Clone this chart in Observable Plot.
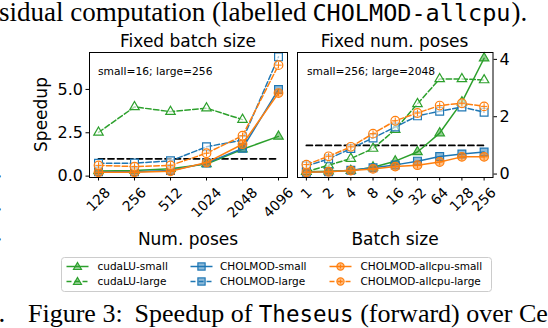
<!DOCTYPE html>
<html><head><meta charset="utf-8">
<script src="https://cdn.jsdelivr.net/npm/d3@7"></script>
<script src="https://cdn.jsdelivr.net/npm/@observablehq/plot@0.6"></script>
<style>
body{margin:0;background:#fff;}
#root{position:relative;width:548px;height:328px;overflow:hidden;font-family:"DejaVu Sans";color:#000;background:#fff;}
#root svg{position:absolute;overflow:visible;}
</style></head><body><div id="root"></div>
<script>
// ---- data ----
const numPoses = [128, 256, 512, 1024, 2048, 4096];
const batchSizes = [1, 2, 4, 8, 16, 32, 64, 128, 256];
const seriesNames = ["cudaLU-small", "cudaLU-large", "CHOLMOD-small", "CHOLMOD-large", "CHOLMOD-allcpu-small", "CHOLMOD-allcpu-large"];
const seriesColors = ["#2ca02c", "#2ca02c", "#1f77b4", "#1f77b4", "#ff7f0e", "#ff7f0e"];
const seriesSymbols = ["triangle", "triangle", "square", "square", "circle", "circle"];
const seriesDashed = [false, true, false, true, false, true];

// Fixed batch size (small=16; large=256), x = num. poses
const posesCudaSmall = [0.30, 0.33, 0.43, 0.70, 1.55, 2.29];
const posesCudaLarge = [2.52, 3.99, 3.72, 3.92, 3.26, null];
const posesCholSmall = [0.25, 0.25, 0.32, 0.75, 1.60, 5.00];
const posesCholLarge = [0.74, 0.75, 0.88, 1.69, 2.08, 6.88];
const posesCpuSmall = [0.22, 0.22, 0.28, 0.78, 1.84, 4.79];
const posesCpuLarge = [0.62, 0.55, 0.62, 1.32, 2.33, 6.40];

// Fixed num. poses (small=256; large=2048), x = batch size
const batchCudaSmall = [0.08, 0.10, 0.12, 0.24, 0.45, 0.77, 1.43, 2.51, 4.04];
const batchCudaLarge = [0.08, 0.31, 0.54, 0.89, 1.55, 2.45, 3.32, 3.32, 3.28];
const batchCholSmall = [0.06, 0.08, 0.13, 0.22, 0.32, 0.45, 0.61, 0.70, 0.77];
const batchCholLarge = [0.28, 0.53, 0.89, 1.26, 1.64, 2.03, 2.19, 2.34, 2.16];
const batchCpuSmall = [0.06, 0.08, 0.12, 0.18, 0.26, 0.31, 0.42, 0.60, 0.60];
const batchCpuLarge = [0.33, 0.62, 0.95, 1.41, 1.86, 2.13, 2.39, 2.47, 2.36];

const leftYTicks = [0, 2.5, 5.0];
const rightYTicks = [0, 2, 4];
const baselineSpeedup = 1;

// ---- drawing ----
const symbolR = {triangle: 3.5, square: 4.4, circle: 4.3};

function makePanel(cfg) {
  const xs = cfg.xs;
  const marks = [];
  marks.push(Plot.line([xs[0], xs[xs.length - 1]].map(x => ({x, y: baselineSpeedup})),
    {x: "x", y: "y", stroke: "black", strokeWidth: 1.8, strokeDasharray: "6,3.5"}));
  cfg.series.forEach((vals, i) => {
    const data = xs.map((x, j) => ({x, y: vals[j]})).filter(d => d.y != null);
    const c = seriesColors[i];
    marks.push(Plot.line(data, {x: "x", y: "y", stroke: c, strokeWidth: 1.5,
      strokeDasharray: seriesDashed[i] ? "5.5,2.4" : null}));
    marks.push(Plot.dot(data, {x: "x", y: "y", symbol: seriesSymbols[i], r: symbolR[seriesSymbols[i]],
      stroke: c, fill: seriesDashed[i] ? "white" : c, fillOpacity: seriesDashed[i] ? 0.6 : 0.5, strokeWidth: 1.2}));
    if (seriesSymbols[i] === "circle") {
      marks.push(Plot.dot(data, {x: "x", y: "y", symbol: "plus", r: 2.2, stroke: c, strokeWidth: 1}));
    }
  });
  marks.push(Plot.frame({stroke: "black", strokeWidth: 1}));
  marks.push(Plot.axisY({anchor: cfg.yAnchor, ticks: cfg.yTicks, tickFormat: cfg.yFormat, tickSize: 3.5,
    tickPadding: 3, fontSize: 16, label: null}));
  marks.push(Plot.axisX({ticks: xs, tickSize: 3.5, tickFormat: () => "", label: null}));
  xs.forEach(v => {
    const s = String(v);
    const w = s.length * 0.636 * 14;
    const off = 9 + (w + 10.5) * 0.707 / 2;
    marks.push(Plot.text([v], {x: d => d, text: d => String(d), frameAnchor: "bottom", rotate: -45,
      textAnchor: "middle", lineAnchor: "middle", fontSize: 14, dy: off, fill: "black"}));
  });
  const svg = Plot.plot({
    width: cfg.width, height: cfg.height,
    marginLeft: cfg.ml, marginRight: cfg.mr, marginTop: 52, marginBottom: 73,
    x: {type: "log", base: 2, domain: cfg.xDomain},
    y: {domain: cfg.yDomain},
    style: {fontFamily: "DejaVu Sans", fontSize: "16px", color: "black", background: "transparent", overflow: "visible"},
    marks
  });
  svg.style.left = cfg.left + "px";
  svg.style.top = "0px";
  return svg;
}

const root = document.getElementById("root");
root.appendChild(makePanel({
  xs: numPoses, series: [posesCudaSmall, posesCudaLarge, posesCholSmall, posesCholLarge, posesCpuSmall, posesCpuLarge],
  xDomain: [Math.pow(2, 6.75), Math.pow(2, 12.25)], yDomain: [-0.08, 7.13],
  yTicks: leftYTicks, yFormat: d3.format(".1f"), yAnchor: "left",
  width: 292, height: 250, ml: 89, mr: 5, left: 0
}));
root.appendChild(makePanel({
  xs: batchSizes, series: [batchCudaSmall, batchCudaLarge, batchCholSmall, batchCholLarge, batchCpuSmall, batchCpuLarge],
  xDomain: [Math.pow(2, -0.4), Math.pow(2, 8.4)], yDomain: [-0.12, 4.24],
  yTicks: rightYTicks, yFormat: d => String(d), yAnchor: "right",
  width: 256, height: 250, ml: 5, mr: 55.5, left: 292
}));

// ---- text, legend ----
function handle(i, x0, cy) {
  const c = seriesColors[i];
  const dash = seriesDashed[i] ? ' stroke-dasharray="5,3"' : '';
  const mx = x0 + 11;
  let m = "";
  if (seriesSymbols[i] === "triangle") m = `<path d="M${mx},${cy-4} L${mx+4},${cy+3} L${mx-4},${cy+3}Z" fill="${c}" fill-opacity="0.5" stroke="${c}" stroke-width="1.2"/>`;
  if (seriesSymbols[i] === "square") m = `<rect x="${mx-3.6}" y="${cy-3.6}" width="7.2" height="7.2" fill="${c}" fill-opacity="0.5" stroke="${c}" stroke-width="1.2"/>`;
  if (seriesSymbols[i] === "circle") m = `<circle cx="${mx}" cy="${cy}" r="3.6" fill="${c}" fill-opacity="0.5" stroke="${c}" stroke-width="1.2"/><path d="M${mx-2},${cy}H${mx+2}M${mx},${cy-2}V${cy+2}" stroke="${c}"/>`;
  return `<line x1="${x0}" x2="${x0+22}" y1="${cy}" y2="${cy}" stroke="${c}" stroke-width="1.5"${dash}/>` + m;
}
const legCols = [[66.5, 97.5], [190.5, 220], [329.5, 360.5]];
const legRows = [266.5, 281.5];
let leg = `<rect x="61.5" y="257.5" width="430" height="34" rx="3" fill="white" stroke="#cccccc" stroke-width="1"/>`;
seriesNames.forEach((name, i) => {
  const col = legCols[Math.floor(i / 2)], cy = legRows[i % 2];
  leg += handle(i, col[0], cy);
  leg += `<text x="${col[1]}" y="${cy}" dy="0.35em" font-size="10.5" font-family="DejaVu Sans">${name}</text>`;
});

const serif = 'font-family="Liberation Serif"';
const overlay = `<svg width="548" height="328" style="left:0;top:0;pointer-events:none" xmlns="http://www.w3.org/2000/svg">
<text x="-1" y="21" font-size="27" ${serif}>sidual computation (labelled<tspan dx="6" font-size="23.5" font-family="DejaVu Sans Mono">CHOLMOD-allcpu</tspan><tspan dx="1">).</tspan></text>
<text x="188" y="47" font-size="17" text-anchor="middle" font-family="DejaVu Sans">Fixed batch size</text>
<text x="394.5" y="47" font-size="17" text-anchor="middle" font-family="DejaVu Sans">Fixed num. poses</text>
<text x="98" y="74.5" font-size="10.7" font-family="DejaVu Sans">small=16; large=256</text>
<text x="307" y="74.5" font-size="10.7" font-family="DejaVu Sans">small=256; large=2048</text>
<text transform="translate(47,114.5) rotate(-90)" font-size="17" text-anchor="middle" font-family="DejaVu Sans">Speedup</text>
<text x="188" y="245" font-size="17" text-anchor="middle" font-family="DejaVu Sans">Num. poses</text>
<text x="395" y="245" font-size="17" text-anchor="middle" font-family="DejaVu Sans">Batch size</text>
<text x="-4.5" y="178" font-size="27" ${serif}>.</text>
<text x="-4.5" y="211" font-size="27" ${serif}>.</text>
<text x="-4.5" y="241" font-size="27" ${serif}>.</text>
${leg}
<text x="-1.5" y="322" font-size="27" ${serif}>.</text>
<text x="28" y="322" font-size="26" ${serif}>Figure 3:<tspan dx="12">Speedup of</tspan><tspan dx="6.5" font-size="22.5" font-family="DejaVu Sans Mono">Theseus</tspan><tspan dx="6.5">(forward) over Ce</tspan></text>
</svg>`;
root.insertAdjacentHTML("beforeend", overlay);
</script></body></html>
